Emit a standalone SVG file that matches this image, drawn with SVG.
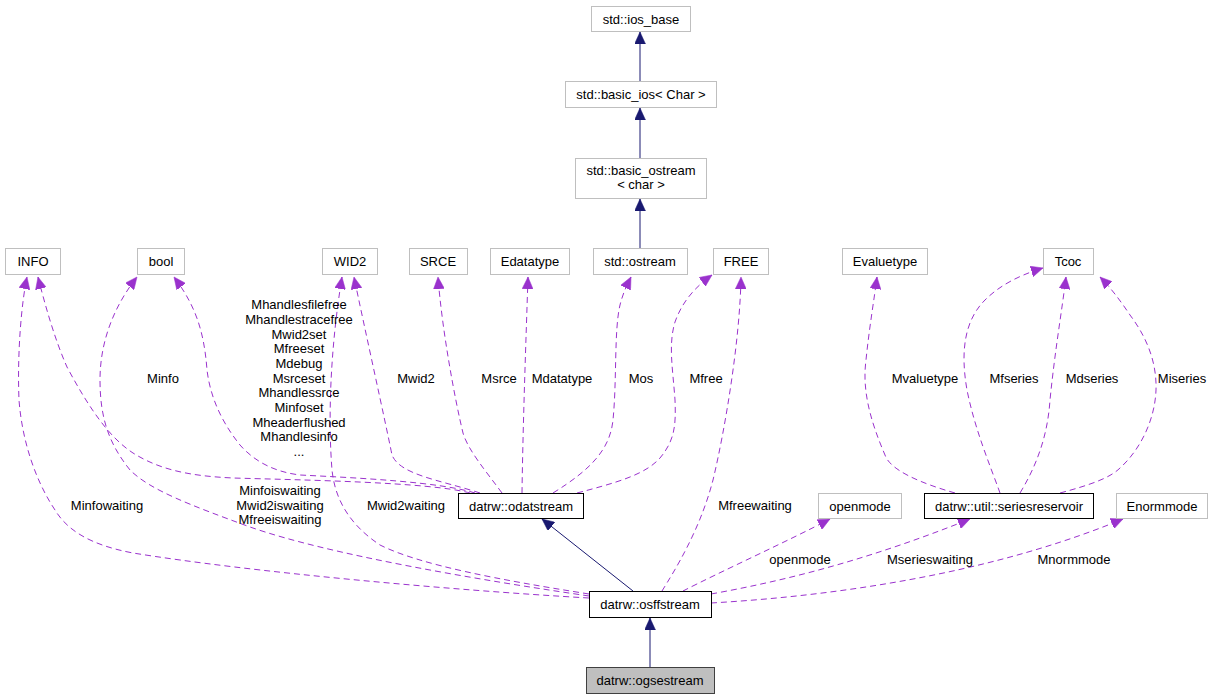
<svg xmlns="http://www.w3.org/2000/svg" width="1214" height="699" viewBox="0 0 1214 699">
<defs>
<style>
text{font-family:"Liberation Sans",Arial,sans-serif;font-size:13px;fill:#000;text-anchor:middle}
.ext{fill:#fff;stroke:#bfbfbf;stroke-width:1}
.doc{fill:#fff;stroke:#000;stroke-width:1}
.cur{fill:#bfbfbf;stroke:#404040;stroke-width:1}
.use{fill:none;stroke:#9a32cd;stroke-width:1;stroke-dasharray:6,4;marker-end:url(#ap)}
.inh{fill:none;stroke:#191970;stroke-width:1;marker-end:url(#an)}
</style>
<marker id="ap" markerUnits="userSpaceOnUse" markerWidth="13" markerHeight="11" refX="12" refY="5.5" orient="auto">
<path d="M0,0 L12,5.5 L0,11 z" fill="#9a32cd" stroke="#9a32cd" stroke-width="0.5"/>
</marker>
<marker id="an" markerUnits="userSpaceOnUse" markerWidth="13" markerHeight="11" refX="12" refY="5.5" orient="auto">
<path d="M0,0 L12,5.5 L0,11 z" fill="#191970" stroke="#191970" stroke-width="0.5"/>
</marker>
</defs>
<rect x="0" y="0" width="1214" height="699" fill="#fff"/>

<g id="connectors">
<path class="inh" d="M640,81 L640,32"/>
<path class="inh" d="M640,158 L640,108"/>
<path class="inh" d="M640,248 L640,199"/>
<path class="inh" d="M633,591 L542,519"/>
<path class="inh" d="M650,667 L650,618"/>

<path class="use" d="M470,493 C430,482 300,480 233,478 C190,476 160,470 133,453 C110,438 90,410 67,367 C55,340 45,305 38,277"/>
<path class="use" d="M475,493 C440,482 360,478 300,475 C275,472 255,462 240,445 C220,420 210,395 207,370 C204,330 195,305 174,277"/>
<path class="use" d="M480,493 C440,480 400,475 392,455 C385,420 365,330 354,277"/>
<path class="use" d="M502,493 C485,470 468,450 463,433 C455,400 442,330 438,277"/>
<path class="use" d="M522,493 C523,420 526,340 528,277"/>
<path class="use" d="M553,493 C590,470 610,450 613,420 C617,380 614,330 620,305 C623,293 627,285 631,277"/>
<path class="use" d="M577,493 C615,483 645,475 660,458 C675,440 676,425 675,400 C673,370 668,345 675,322 C682,302 695,287 712,275"/>

<path class="use" d="M589,598 C450,590 250,572 133,553 C90,545 67,530 55,510 C35,480 22,440 19,400 C17,350 22,300 27,277"/>
<path class="use" d="M589,596 C480,580 330,555 250,527 C190,505 150,490 130,470 C110,445 100,420 100,380 C100,340 115,305 137,277"/>
<path class="use" d="M589,594 C500,580 420,565 380,545 C350,525 335,500 332,470 C328,420 330,350 342,277"/>
<path class="use" d="M662,591 C675,570 700,530 713,480 C725,430 740,340 741,277"/>
<path class="use" d="M683,591 C720,572 790,540 830,519"/>
<path class="use" d="M711,594 C800,578 880,555 970,519"/>
<path class="use" d="M711,603 C850,595 1000,570 1123,519"/>

<path class="use" d="M955,493 C920,483 890,470 885,455 C870,420 862,390 866,360 C869,330 874,300 877,277"/>
<path class="use" d="M1000,493 C990,465 975,430 967,390 C960,350 965,320 985,300 C1000,285 1020,275 1043,268"/>
<path class="use" d="M1020,493 C1040,460 1048,430 1050,400 C1055,350 1062,310 1066,277"/>
<path class="use" d="M1060,493 C1090,485 1110,478 1120,468 C1140,450 1155,420 1156,390 C1157,360 1145,335 1130,315 C1120,300 1110,287 1100,277"/>

<g id="edge-labels">
<text x="163" y="383">Minfo</text>
<text x="299" y="309">Mhandlesfilefree</text>
<text x="299" y="324">Mhandlestracefree</text>
<text x="299" y="339">Mwid2set</text>
<text x="299" y="353">Mfreeset</text>
<text x="299" y="368">Mdebug</text>
<text x="299" y="383">Msrceset</text>
<text x="299" y="397">Mhandlessrce</text>
<text x="299" y="412">Minfoset</text>
<text x="299" y="427">Mheaderflushed</text>
<text x="299" y="441">Mhandlesinfo</text>
<text x="299" y="456">...</text>
<text x="416" y="383">Mwid2</text>
<text x="499" y="383">Msrce</text>
<text x="562" y="383">Mdatatype</text>
<text x="641" y="383">Mos</text>
<text x="706" y="383">Mfree</text>
<text x="925" y="383">Mvaluetype</text>
<text x="1014" y="383">Mfseries</text>
<text x="1092" y="383">Mdseries</text>
<text x="1182" y="383">Miseries</text>
<text x="107" y="510">Minfowaiting</text>
<text x="280" y="495">Minfoiswaiting</text>
<text x="280" y="510">Mwid2iswaiting</text>
<text x="280" y="524">Mfreeiswaiting</text>
<text x="406" y="510">Mwid2waiting</text>
<text x="755" y="510">Mfreewaiting</text>
<text x="800" y="564">openmode</text>
<text x="930" y="564">Mserieswaiting</text>
<text x="1074" y="564">Mnormmode</text>
</g>
</g>

<g id="n-ios_base"><rect class="ext" x="591.5" y="6.5" width="99" height="25"/><text x="641" y="23.5">std::ios_base</text></g>
<g id="n-basic_ios"><rect class="ext" x="565.5" y="81.5" width="151" height="26"/><text x="641" y="99">std::basic_ios&lt; Char &gt;</text></g>
<g id="n-basic_ostream"><rect class="ext" x="575.5" y="158.5" width="131" height="40"/><text x="641" y="174.5">std::basic_ostream</text><text x="641" y="189">&lt; char &gt;</text></g>

<g id="n-INFO"><rect class="ext" x="5.5" y="248.5" width="55" height="26"/><text x="33" y="266">INFO</text></g>
<g id="n-bool"><rect class="ext" x="137.5" y="248.5" width="47" height="26"/><text x="161" y="266">bool</text></g>
<g id="n-WID2"><rect class="ext" x="322.5" y="248.5" width="55" height="26"/><text x="350" y="266">WID2</text></g>
<g id="n-SRCE"><rect class="ext" x="409.5" y="248.5" width="58" height="26"/><text x="438" y="266">SRCE</text></g>
<g id="n-Edatatype"><rect class="ext" x="490.5" y="248.5" width="79" height="26"/><text x="530" y="266">Edatatype</text></g>
<g id="n-ostream"><rect class="ext" x="593.5" y="248.5" width="94" height="26"/><text x="640" y="266">std::ostream</text></g>
<g id="n-FREE"><rect class="ext" x="713.5" y="248.5" width="55" height="26"/><text x="741" y="266">FREE</text></g>
<g id="n-Evaluetype"><rect class="ext" x="842.5" y="248.5" width="85" height="26"/><text x="885" y="266">Evaluetype</text></g>
<g id="n-Tcoc"><rect class="ext" x="1043.5" y="248.5" width="50" height="26"/><text x="1068" y="266">Tcoc</text></g>

<g id="n-odatstream"><rect class="doc" x="458.5" y="493.5" width="125" height="25"/><text x="521" y="510.5">datrw::odatstream</text></g>
<g id="n-openmode"><rect class="ext" x="818.5" y="493.5" width="83" height="25"/><text x="860" y="510.5">openmode</text></g>
<g id="n-seriesreservoir"><rect class="doc" x="924.5" y="493.5" width="169" height="25"/><text x="1009" y="510.5">datrw::util::seriesreservoir</text></g>
<g id="n-Enormmode"><rect class="ext" x="1116.5" y="493.5" width="91" height="25"/><text x="1162" y="510.5">Enormmode</text></g>

<g id="n-osffstream"><rect class="doc" x="589.5" y="591.5" width="122" height="26"/><text x="650" y="609">datrw::osffstream</text></g>
<g id="n-ogsestream"><rect class="cur" x="586.5" y="667.5" width="128" height="26"/><text x="650" y="685">datrw::ogsestream</text></g>
</svg>
